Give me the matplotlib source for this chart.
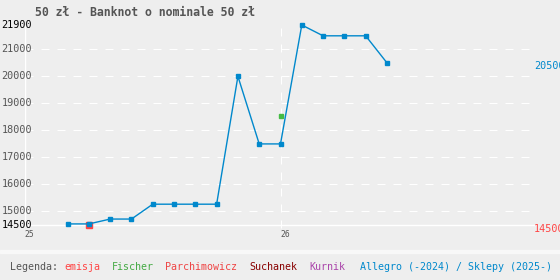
import matplotlib
matplotlib.use("Agg")
import matplotlib.pyplot as plt

# months since Jan 2025
allegro_months = [2, 3, 4, 5, 6, 7, 8, 9, 10, 11, 12, 13, 14, 15, 16, 17]
allegro_values = [14540, 14540, 14720, 14720, 15270, 15270, 15270, 15270,
                  20000, 17500, 17500, 21900, 21500, 21500, 21500, 20500]
emisja_months = [3]
emisja_values = [14500]
fischer_months = [12]
fischer_values = [18550]
ytick_values = [14500, 15000, 16000, 17000, 18000, 19000, 20000, 21000, 21900]
year_ticks = [0, 12]
year_labels = ["25", "26"]

BG = "#eeeeee"
BLUE = "#0088cc"
RED = "#ff4444"
GREEN = "#44bb44"
MONO = "DejaVu Sans Mono"
DASH = (0, (7.2, 7.2))

W, H = 560, 280
fig = plt.figure(figsize=(W / 100, H / 100), dpi=100, facecolor=BG)
ax = fig.add_axes([25 / W, 1 - 225 / H, (536 - 25) / W, 200 / H])
ax.set_facecolor(BG)
ax.set_xlim(0, 24)
ax.set_ylim(14500, 21900)
for s in ax.spines.values():
    s.set_visible(False)

for v in ytick_values[1:-1]:
    ax.axhline(v, color="white", lw=0.8, ls=DASH, zorder=1)
ax.axhline(14500, color="white", lw=1.0, zorder=1, clip_on=False)
ax.axvline(0, color="white", lw=1.0, zorder=1)
ax.plot([12, 12], [14380, 21900], color="white", lw=0.8, ls=DASH,
        zorder=1, clip_on=False)

ax.plot(emisja_months, emisja_values, ls="none", marker="s", ms=4.5,
        color=RED, zorder=2, clip_on=False)
ax.plot(fischer_months, fischer_values, ls="none", marker="s", ms=3.5,
        color=GREEN, zorder=3)
ax.plot(allegro_months, allegro_values, color=BLUE, lw=1, marker="s",
        ms=3.2, zorder=4, clip_on=False)

ax.set_xticks([])
ax.set_yticks([])
for v in ytick_values:
    col = "black" if v in (ytick_values[0], ytick_values[-1]) else "#555555"
    ax.text(7 / 511, v, str(v), transform=ax.get_yaxis_transform(),
            ha="right", va="center", fontsize=7.3, family=MONO, color=col,
            zorder=5)
for t, lab in zip(year_ticks, year_labels):
    ax.text(t + 0.22, 14500 - 200, lab, transform=ax.transData, ha="center",
            va="top", fontsize=5.8, family=MONO, color="#555555",
            clip_on=False)

fig.text(534 / W, 1 - 66 / H, "20500", color=BLUE, fontsize=7.3,
         family=MONO, ha="left", va="center")
fig.text(534 / W, 1 - 229 / H, "14500", color=RED, fontsize=7.3,
         family=MONO, ha="left", va="center")

fig.text(35 / W, 1 - 12 / H, "50 zł - Banknot o nominale 50 zł",
         fontsize=8.3, family=MONO, weight="bold", color="#555555",
         ha="left", va="center")

fig.patches.append(plt.Rectangle((0, 1 - 253 / H), 1, 3 / H,
                                 transform=fig.transFigure,
                                 color="#f8f8f8", zorder=0))

legend_items = [
    (10, "Legenda:", "#555555"),
    (64, "emisja", RED),
    (111.5, "Fischer", "#44aa44"),
    (164.5, "Parchimowicz", "#ee4444"),
    (249.5, "Suchanek", "#880000"),
    (309.5, "Kurnik", "#aa44aa"),
    (359.5, "Allegro (-2024) / Sklepy (2025-)", BLUE),
]
for x, txt, col in legend_items:
    fig.text(x / W, 1 - 267.5 / H, txt, color=col, fontsize=7.2, family=MONO,
             ha="left", va="center")

fig.savefig("out.png", dpi=100, facecolor=BG)
